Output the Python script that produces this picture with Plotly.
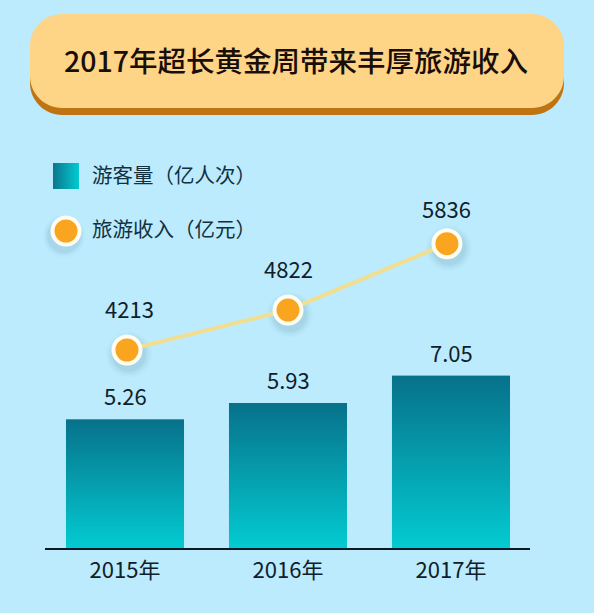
import plotly.graph_objects as go

W, H = 594, 613
# ---- data ----
years = ["2015年", "2016年", "2017年"]
visitors = [5.26, 5.93, 7.05]
revenue = [4213, 4822, 5836]
series_names = ["游客量（亿人次）", "旅游收入（亿元）"]
title_text = "2017年超长黄金周带来丰厚旅游收入"

positions = [0, 1, 2]
point_positions = [0.012, 1.0, 1.975]
label_positions = [0.03, 1.0, 1.975]
label_shifts = [42, 42, 36]
BAR_W = 0.724
BG = "#BBEBFD"
INK = "#10202B"
CJK = "Noto Sans CJK SC"

L, R, T, B = 45, 530, 130, 548
fig = go.Figure()

# solid base bars
fig.add_trace(go.Bar(x=positions, y=visitors, width=BAR_W, marker=dict(color="#05A5B5", line_width=0),
                     name=series_names[0], showlegend=False, hoverinfo="skip"))
# gradient overlay for each bar
for p, v in zip(positions, visitors):
    fig.add_trace(go.Scatter(
        x=[p - BAR_W / 2, p + BAR_W / 2, p + BAR_W / 2, p - BAR_W / 2, p - BAR_W / 2],
        y=[0, 0, v, v, 0], mode="lines", line_width=0, fill="toself", showlegend=False, hoverinfo="skip",
        fillgradient=dict(type="vertical", colorscale=[[0, "#03CBD1"], [1, "#07718A"]]),
    ))

# line on second axis, with soft shadow
for size, alpha in [(46, .02), (42, .03), (38, .04), (34, .05)]:
    fig.add_trace(go.Scatter(x=[p + 0.012 for p in point_positions], y=[r - 70 for r in revenue], yaxis="y2", mode="markers",
                             marker=dict(size=size, color=f"rgba(40,80,110,{alpha})", line_width=0),
                             showlegend=False, hoverinfo="skip"))
fig.add_trace(go.Scatter(x=point_positions, y=revenue, yaxis="y2", mode="lines+markers",
                         name=series_names[1], showlegend=False, hoverinfo="skip",
                         line=dict(color="#F2DE8E", width=4),
                         marker=dict(size=27, color="#F9A51F", line=dict(color="#FFFCF2", width=4))))

# separate full-page pixel axes for legend keys
fig.add_trace(go.Scatter(x=[66], y=[176], xaxis="x3", yaxis="y3", mode="markers", showlegend=False, hoverinfo="skip",
                         marker=dict(symbol="square", size=26, color="#0B768E",
                                     gradient=dict(type="horizontal", color="#03CBD1"), line_width=0)))
for s, a in [(42, .025), (38, .04), (34, .06)]:
    fig.add_trace(go.Scatter(x=[64], y=[236], xaxis="x3", yaxis="y3", mode="markers", showlegend=False, hoverinfo="skip",
                             marker=dict(size=s, color=f"rgba(40,80,110,{a})", line_width=0)))
fig.add_trace(go.Scatter(x=[66], y=[231], xaxis="x3", yaxis="y3", mode="markers", showlegend=False, hoverinfo="skip",
                         marker=dict(size=27, color="#F9A51F", line=dict(color="#FFFCF2", width=4))))

def rrect(x0, y0, x1, y1, r):
    px = lambda v: v / W
    py = lambda v: 1 - v / H
    c = 0.45 * r
    return (f"M{px(x0+r)},{py(y0)} L{px(x1-r)},{py(y0)} "
            f"C{px(x1-c)},{py(y0)} {px(x1)},{py(y0+c)} {px(x1)},{py(y0+r)} "
            f"L{px(x1)},{py(y1-r)} C{px(x1)},{py(y1-c)} {px(x1-c)},{py(y1)} {px(x1-r)},{py(y1)} "
            f"L{px(x0+r)},{py(y1)} C{px(x0+c)},{py(y1)} {px(x0)},{py(y1-c)} {px(x0)},{py(y1-r)} "
            f"L{px(x0)},{py(y0+r)} C{px(x0)},{py(y0+c)} {px(x0+c)},{py(y0)} {px(x0+r)},{py(y0)} Z")

shapes = [
    dict(type="path", xref="paper", yref="paper", path=rrect(30, 20, 564, 115, 32), fillcolor="#BF7311", line_width=0, layer="below"),
    dict(type="path", xref="paper", yref="paper", path=rrect(30, 14, 564, 108, 32), fillcolor="#FED487", line_width=0, layer="below"),
]
annotations = [
    dict(text=title_text, x=296 / W, y=1 - 59 / H, xref="paper", yref="paper", showarrow=False, xanchor="center", yanchor="middle",
         font=dict(family=CJK, size=28.5, color="#1A0E08", weight=500)),
    dict(text=series_names[0], x=90 / W, y=1 - 174 / H, xref="paper", yref="paper", showarrow=False, xanchor="left", yanchor="middle",
         font=dict(family=CJK, size=20.5, color="#12303F")),
    dict(text=series_names[1], x=90 / W, y=1 - 228 / H, xref="paper", yref="paper", showarrow=False, xanchor="left", yanchor="middle",
         font=dict(family=CJK, size=20.5, color="#12303F")),
]
for p, v in zip(positions, visitors):
    annotations.append(dict(text=f"{v:.2f}", x=p, y=v, xref="x", yref="y", showarrow=False, yshift=24,
                            xanchor="center", yanchor="middle", font=dict(family=CJK, size=22, color=INK)))
for p, r, s in zip(label_positions, revenue, label_shifts):
    annotations.append(dict(text=str(r), x=p, y=r, xref="x", yref="y2", showarrow=False, yshift=s,
                            xanchor="center", yanchor="middle", font=dict(family=CJK, size=22, color=INK)))

fig.update_layout(
    width=W, height=H, margin=dict(l=0, r=0, t=0, b=0), paper_bgcolor=BG, plot_bgcolor="rgba(0,0,0,0)",
    showlegend=False, shapes=shapes, annotations=annotations, hovermode=False,
    xaxis=dict(domain=[L / W, R / W], range=[-80 / 163, 405 / 163], tickmode="array", tickvals=positions, ticktext=years,
               showgrid=False, zeroline=False, showline=True, linecolor="#0A1A22", linewidth=2, ticks="",
               ticklabelstandoff=2, tickfont=dict(family=CJK, size=22, color=INK), fixedrange=True),
    yaxis=dict(domain=[1 - B / H, 1 - T / H], range=[0, (B - T) / 24.45], visible=False, fixedrange=True),
    yaxis2=dict(domain=[1 - B / H, 1 - T / H], range=[1190, 7572], overlaying="y", visible=False, fixedrange=True),
    xaxis3=dict(domain=[0, 1], range=[0, W], visible=False, fixedrange=True, anchor="y3"),
    yaxis3=dict(domain=[0, 1], range=[H, 0], visible=False, fixedrange=True, anchor="x3"),
)
fig.write_html("out.html", config={"displayModeBar": False},
               post_script="document.body.style.margin='0';document.body.style.background='#BBEBFD';")
